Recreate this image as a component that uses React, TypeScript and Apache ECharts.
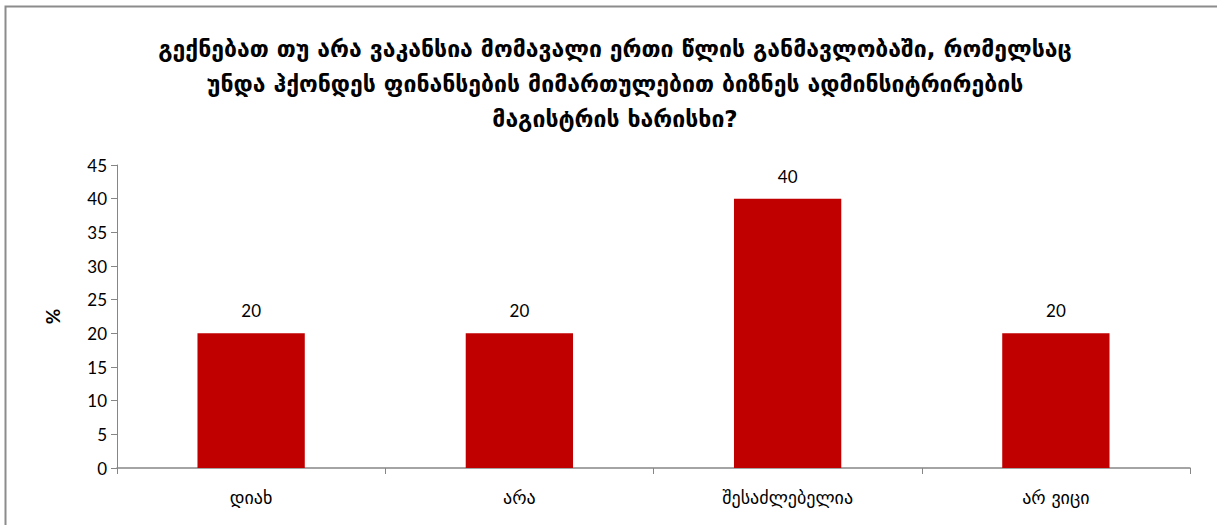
import React, { useEffect, useRef } from "react";
import * as echarts from "echarts";

const titleText =
  "გექნებათ თუ არა ვაკანსია მომავალი ერთი წლის განმავლობაში, რომელსაც\nუნდა ჰქონდეს ფინანსების მიმართულებით ბიზნეს ადმინსიტრირების\nმაგისტრის ხარისხი?";
const categories = ["დიახ", "არა", "შესაძლებელია", "არ ვიცი"];
const values = [20, 20, 40, 20];
const yAxisName = "%";

export default function App() {
  const ref = useRef<HTMLDivElement>(null);
  useEffect(() => {
    const chart = echarts.init(ref.current!, null, { renderer: "svg" });
    chart.setOption({
      animation: false,
      backgroundColor: "#ffffff",
      title: {
        text: titleText,
        left: 610,
        textAlign: "center",
        top: 26,
        textStyle: {
          fontFamily: "'DejaVu Sans', 'Noto Sans', sans-serif",
          fontSize: 23,
          fontWeight: "bold",
          color: "#000",
          lineHeight: 35,
        },
      },
      graphic: [
        {
          type: "rect",
          shape: { x: 5.5, y: 6.5, width: 1230, height: 540 },
          style: { fill: "none", stroke: "#8c8c8c", lineWidth: 2 },
          silent: true,
        },
      ],
      grid: { left: 117, right: 27, top: 165, bottom: 57, containLabel: false },
      xAxis: {
        type: "category",
        data: categories,
        axisLine: { lineStyle: { color: "#868686", width: 1.5 } },
        axisTick: { show: true, length: 6, alignWithLabel: false, lineStyle: { color: "#868686" } },
        axisLabel: {
          color: "#000",
          fontSize: 18,
          fontFamily: "'DejaVu Sans', sans-serif",
          margin: 20,
        },
      },
      yAxis: {
        type: "value",
        min: 0,
        max: 45,
        interval: 5,
        name: yAxisName,
        nameLocation: "middle",
        nameGap: 55,
        nameRotate: 90,
        nameTextStyle: { fontSize: 19, fontWeight: "bold", color: "#000", fontFamily: "Lato, sans-serif" },
        axisLine: { show: true, lineStyle: { color: "#868686", width: 1 } },
        axisTick: { show: true, length: 6, lineStyle: { color: "#868686" } },
        splitLine: { show: false },
        axisLabel: { color: "#000", fontSize: 17, fontFamily: "Lato, 'Open Sans', sans-serif", margin: 10 },
      },
      series: [
        {
          type: "bar",
          data: values,
          barCategoryGap: "60%",
          itemStyle: { color: "#C00000" },
          label: {
            show: true,
            position: "top",
            distance: 14,
            color: "#000",
            fontSize: 17,
            fontFamily: "Lato, 'Open Sans', sans-serif",
          },
        },
      ],
    });
    return () => chart.dispose();
  }, []);
  return (
    <div
      ref={ref}
      style={{ position: "absolute", left: 0, top: 0, width: 1217, height: 525 }}
    />
  );
}
